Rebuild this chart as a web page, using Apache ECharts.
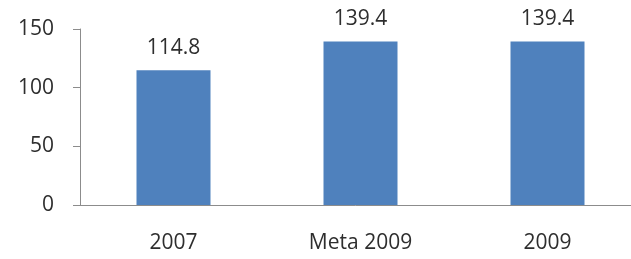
<!DOCTYPE html>
<html>
<head>
<meta charset="utf-8">
<script src="https://cdn.jsdelivr.net/npm/echarts@6/dist/echarts.min.js"></script>
<style>
  html, body { margin: 0; padding: 0; background: #fff; }
  #main { width: 631px; height: 259px; }
</style>
</head>
<body>
<div id="main"></div>
<script>
var categories = ['2007', 'Meta 2009', '2009'];
var values = [114.8, 139.4, 139.4];
var yTicks = [0, 50, 100, 150];

var chart = echarts.init(document.getElementById('main'));
var font = 'Open Sans';
chart.setOption({
    animation: false,
    grid: { left: 80, width: 561, top: 29, bottom: 54, outerBoundsMode: 'none' },
    xAxis: {
        type: 'category',
        data: categories,
        axisLine: { lineStyle: { color: '#8c8c8c', width: 1 } },
        axisTick: { length: 8, lineStyle: { color: '#8c8c8c' } },
        axisLabel: { margin: 28, color: '#2e2e2e', fontFamily: font, fontSize: 21 }
    },
    yAxis: {
        type: 'value',
        min: yTicks[0],
        max: yTicks[yTicks.length - 1],
        interval: 50,
        splitLine: { show: false },
        axisLine: { show: true, lineStyle: { color: '#8c8c8c', width: 1 } },
        axisTick: { show: true, length: 7, lineStyle: { color: '#8c8c8c' } },
        axisLabel: { margin: 26, color: '#2e2e2e', fontFamily: font, fontSize: 21 }
    },
    series: [{
        type: 'bar',
        data: values,
        barWidth: 74,
        itemStyle: { color: '#4f81bd' },
        label: {
            show: true,
            position: 'top',
            distance: 12,
            color: '#2e2e2e',
            fontFamily: font,
            fontSize: 21,
            formatter: function (p) { return p.value.toFixed(1); }
        }
    }]
});
</script>
</body>
</html>
